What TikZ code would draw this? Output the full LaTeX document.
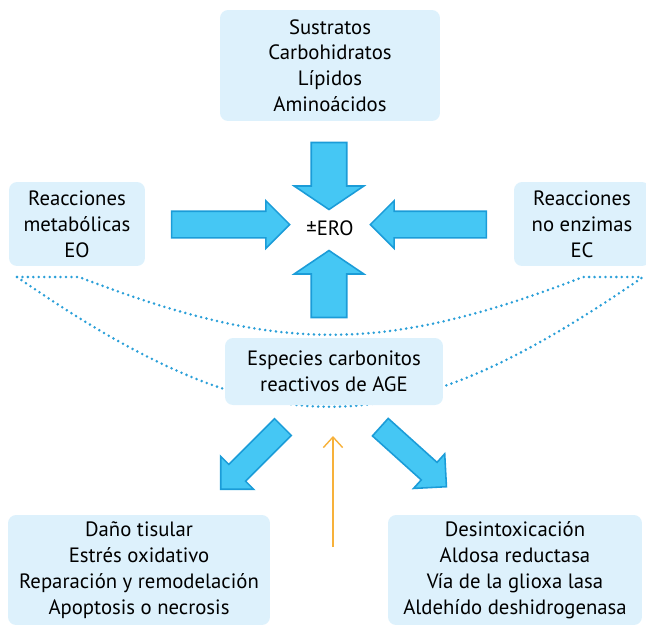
\documentclass[tikz,border=0pt]{standalone}
\usepackage{fontspec}
\setmainfont{PT Sans}
\usepackage{tikz}
\usetikzlibrary{shapes.arrows, arrows.meta, positioning}

\definecolor{boxblue}{HTML}{DDF1FC}
\definecolor{arrfill}{HTML}{45C7F4}
\definecolor{arrline}{HTML}{1B9CD8}
\definecolor{dotblue}{HTML}{2A9FD8}
\definecolor{amber}{HTML}{F7B13A}

\begin{document}
\begin{tikzpicture}[
  x=0.02cm, y=-0.02cm,
  blk/.style={fill=boxblue, rounded corners=0.16cm, align=center, inner sep=0pt,
              font=\fontsize{11.8}{14.7}\selectfont},
  bigarr/.style={single arrow, draw=arrline, fill=arrfill, line width=0.9pt,
                 inner xsep=0pt, single arrow tip angle=90},
  dots/.style={dotblue, line width=1.6pt, line cap=round, dash pattern=on 0pt off 3.1pt},
  thinarr/.style={amber, line width=0.8pt, -{Straight Barb[length=6pt, width=11pt]}},
]
\useasboundingbox (0,0) rectangle (646,626);

% dotted brackets behind the middle box
\coordinate (dl)  at (17,277);
\coordinate (dli) at (79,277);
\coordinate (dri) at (583,277);
\coordinate (dr)  at (643,277);
\draw[dots] (dl) -- (dli) .. controls (279,354) and (383,354) .. (dri) -- (dr);
\draw[dots] (dl) .. controls (267,450) and (393,450) .. (dr);

% boxes
\node[blk, minimum width=4.4cm,  minimum height=2.22cm] (sus)   at (330,65.5)
  {Sustratos\\Carbohidratos\\Lípidos\\Aminoácidos};
\node[blk, minimum width=2.72cm, minimum height=1.68cm] (metab) at (77,224)
  {Reacciones\\metabólicas\\EO};
\node[blk, minimum width=2.72cm, minimum height=1.68cm] (noenz) at (582,224)
  {Reacciones\\no enzimas\\EC};
\node[font=\fontsize{11.8}{14.7}\selectfont] (ero) at (330,228) {±ERO};
\node[blk, minimum width=4.36cm, minimum height=1.34cm] (age)   at (334,371.5)
  {Especies carbonitos\\reactivos de AGE};
\node[blk, minimum width=5.24cm, minimum height=2.2cm]  (dano)  at (139,570)
  {Daño tisular\\Estrés oxidativo\\Reparación y remodelación\\Apoptosis o necrosis};
\node[blk, minimum width=5.08cm, minimum height=2.2cm]  (desin) at (515,570)
  {Desintoxicación\\Aldosa reductasa\\Vía de la glioxa lasa\\Aldehído deshidrogenasa};

% block arrows (shaft width = 2 x inner ysep)
\node[bigarr, minimum height=1.34cm, inner ysep=0.34cm, single arrow head extend=0.34cm,
      single arrow tip angle=112, rotate=-90] (adown) at (329,170) {};
\node[bigarr, minimum height=1.34cm, inner ysep=0.34cm, single arrow head extend=0.34cm,
      single arrow tip angle=112, rotate=90] (aup) at (329,290) {};
\node[bigarr, minimum height=2.36cm, inner ysep=0.25cm, single arrow head extend=0.21cm]
  (aright) at (224,224.5) {};
\node[bigarr, minimum height=2.32cm, inner ysep=0.25cm, single arrow head extend=0.21cm,
      rotate=180] (aleft) at (435,224.5) {};
\node[bigarr, minimum height=1.76cm, inner ysep=0.22cm, single arrow head extend=0.23cm,
      rotate=-135] (adl) at (256,454) {};
\node[bigarr, minimum height=1.78cm, inner ysep=0.22cm, single arrow head extend=0.23cm,
      rotate=-42] (adr) at (409,453) {};

% thin feedback arrow
\coordinate (ob) at (333,547);
\coordinate (ot) at (333,436);
\draw[thinarr] (ob) -- (ot);
\end{tikzpicture}
\end{document}
